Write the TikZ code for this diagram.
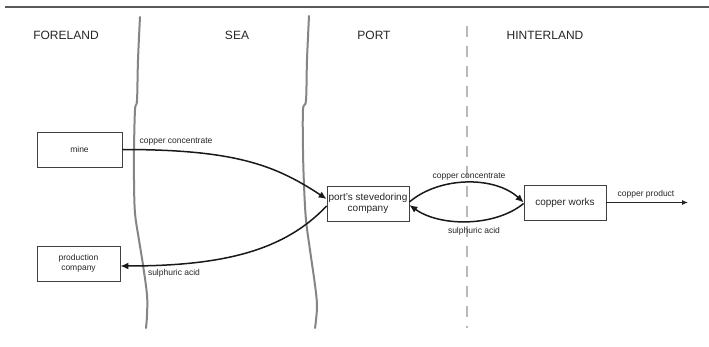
\documentclass[tikz,border=0pt]{standalone}
\usepackage{fontspec}
\setmainfont{Liberation Sans}
\usetikzlibrary{arrows.meta,calc}
\begin{document}
\begin{tikzpicture}[x=1pt,y=-1pt,
  region/.style={font=\fontsize{12}{14}\selectfont, text=black!85},
  bigbox/.style={draw=black!75, line width=0.8pt, minimum width=82pt, minimum height=35pt, inner sep=0pt, align=center, font=\fontsize{10}{11.5}\selectfont, text=black!85},
  smallbox/.style={draw=black!75, line width=0.8pt, minimum height=35pt, inner sep=0pt, align=center, font=\fontsize{8.5}{10}\selectfont, text=black!85},
  lbl/.style={font=\fontsize{8.5}{10}\selectfont, text=black!85, inner sep=0pt},
  flow/.style={line width=1.5pt, black!90, -{Latex[length=8pt,width=7pt]}},
  thinflow/.style={line width=0.9pt, black!85, -{Latex[length=6pt,width=5pt]}},
  coast/.style={line width=2pt, black!48, line cap=round},
  border/.style={line width=2.6pt, black!28, dash pattern=on 11pt off 9pt}
]
\useasboundingbox (0,0) rectangle (709,347);
\fill[white] (0,0) rectangle (709,347);
\draw[line width=1.2pt, black!65] (5,7) -- (709,7);

% region labels
\node[region] (foreland) at (66,35) {FORELAND};
\node[region] (sea) at (237,35) {SEA};
\node[region] (portlbl) at (374,35) {PORT};
\node[region] (hinter) at (545,35) {HINTERLAND};

% coastlines
\draw[coast] plot[smooth, tension=0.6] coordinates {(140,17) (138,60) (137,100) (135,110) (134,150) (134,180) (135,213) (139,240) (143,265) (147,295) (147,315) (146,328)};
\draw[coast] plot[smooth, tension=0.6] coordinates {(309,16) (307,60) (306,100) (303,110) (303,150) (304,185) (306,220) (310,250) (315,285) (317,305) (316,320) (315,328)};

% dashed border
\draw[border] (467,26) -- (467,328);

% boxes
\node[smallbox, minimum width=85pt] (mine) at (79.5,149.5) {mine};
\node[smallbox, minimum width=83pt] (prod) at (78.5,263.5) {production\\company};
\node[bigbox] (port) at (368,203.5) {port's stevedoring\\company};
\node[bigbox] (works) at (565,202.5) {copper works};
\coordinate (prodend) at (688,202.5);

% connectors
\draw[flow] (mine.east) .. controls (235,149.5) and (275,165) .. ([yshift=4.5pt]port.west);
\draw[flow] ([yshift=-2.5pt]port.west) .. controls (285,250) and (225,266) .. ([yshift=-2.5pt]prod.east);
\draw[flow] ([yshift=1.5pt]port.east) .. controls (440,176) and (495,176) .. (works.west);
\draw[flow] ([yshift=-1pt]works.west) .. controls (495,227) and (440,227) .. ([yshift=-1.5pt]port.east);
\draw[thinflow] (works.east) -- (prodend);

% connector labels
\node[lbl] (l1) at (176,142) {copper concentrate};
\node[lbl] (l2) at (174,273.5) {sulphuric acid};
\node[lbl] (l3) at (469,177) {copper concentrate};
\node[lbl] (l4) at (474,231) {sulphuric acid};
\node[lbl] (l5) at (646,194) {copper product};
\end{tikzpicture}
\end{document}
